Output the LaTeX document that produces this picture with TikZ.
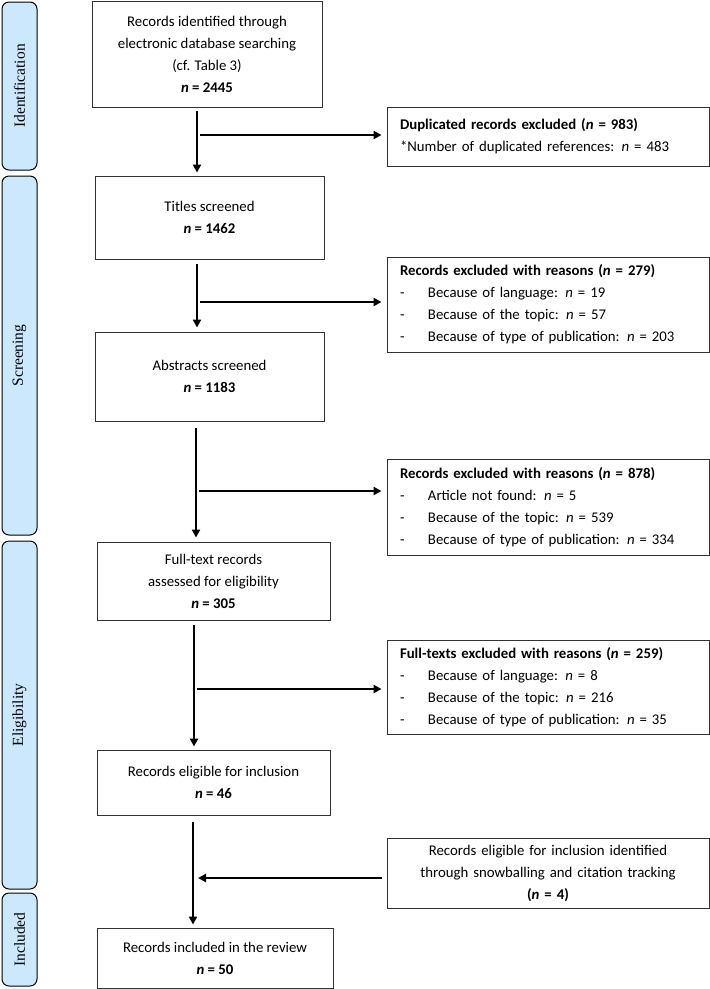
\documentclass[tikz,border=0pt]{standalone}
\usepackage{fontspec}
\setmainfont{Carlito}
\newfontfamily\phasefont{Liberation Serif}
\usetikzlibrary{arrows.meta,calc}
\definecolor{phasefill}{RGB}{204,232,252}
\definecolor{boxline}{RGB}{50,50,50}
\begin{document}
\begin{tikzpicture}[x=1pt,y=-1pt,
  mainbox/.style={draw=boxline,line width=0.9pt,align=center,inner sep=0pt,
    font=\fontsize{14.8}{22}\selectfont},
  sidebox/.style={draw=boxline,line width=0.9pt,align=left,inner xsep=13pt,inner ysep=0pt,
    minimum width=322pt,text width=296pt,font=\fontsize{14.8}{22}\selectfont},
  phase/.style={draw=black,fill=phasefill,rounded corners=7pt,line width=1pt,
    minimum height=35pt,inner sep=0pt,rotate=90,font=\phasefont\fontsize{15.5}{18}\selectfont},
  arr/.style={line width=2.2pt,-{Triangle[length=8pt,width=8pt]}}
]
\useasboundingbox (0,0) rectangle (710,989);
\newcommand{\dd}{\makebox[28pt][l]{-}}

% phase bars
\node[phase,minimum width=168pt] (p1) at (19.5,86) {Identification};
\node[phase,minimum width=359pt] (p2) at (19.5,355.5) {Screening};
\node[phase,minimum width=348pt] (p3) at (19.5,715) {Eligibility};
\node[phase,minimum width=93pt] (p4) at (19.5,939.5) {Included};

% main column
\node[mainbox,minimum width=230pt,minimum height=106pt] (b1) at (207,54)
  {Records identified through\\electronic database searching\\(cf. Table 3)\\\textbf{\textit{n} = 2445}};
\node[mainbox,minimum width=229pt,minimum height=83pt] (titles) at (209.5,217.5)
  {Titles screened\\\textbf{\textit{n} = 1462}};
\node[mainbox,minimum width=229pt,minimum height=89pt] (abs) at (209.5,376.5)
  {Abstracts screened\\\textbf{\textit{n} = 1183}};
\node[mainbox,minimum width=233pt,minimum height=78pt] (full) at (213.5,581)
  {Full-text records\\assessed for eligibility\\\textbf{\textit{n} = 305}};
\node[mainbox,minimum width=233pt,minimum height=65pt] (elig) at (213.5,782.5)
  {Records eligible for inclusion\\\textbf{\textit{n} = 46}};
\node[mainbox,minimum width=236pt,minimum height=60pt] (incl) at (215,958)
  {Records included in the review\\\textbf{\textit{n} = 50}};

% side boxes
\node[sidebox,minimum height=59pt] (dup) at (548,136.5)
  {\textbf{Duplicated records excluded (\textit{n} = 983)}\\{}*Number of duplicated references: \textit{n} = 483};
\node[sidebox,minimum height=95pt] (ex1) at (548,304.5)
  {\textbf{Records excluded with reasons (\textit{n} = 279)}\\
   \dd Because of language: \textit{n} = 19\\
   \dd Because of the topic: \textit{n} = 57\\
   \dd Because of type of publication: \textit{n} = 203};
\node[sidebox,minimum height=96pt] (ex2) at (548,507)
  {\textbf{Records excluded with reasons (\textit{n} = 878)}\\
   \dd Article not found: \textit{n} = 5\\
   \dd Because of the topic: \textit{n} = 539\\
   \dd Because of type of publication: \textit{n} = 334};
\node[sidebox,minimum height=94pt] (ex3) at (548,687)
  {\textbf{Full-texts excluded with reasons (\textit{n} = 259)}\\
   \dd Because of language: \textit{n} = 8\\
   \dd Because of the topic: \textit{n} = 216\\
   \dd Because of type of publication: \textit{n} = 35};
\node[sidebox,align=center,minimum height=70pt] (snow) at (548,873)
  {Records eligible for inclusion identified\\through snowballing and citation tracking\\\textbf{(\textit{n} = 4)}};

% connector columns
\coordinate (c1) at (197,135);
\coordinate (c2) at (197,302);
\coordinate (c3) at (196,491);
\coordinate (c4) at (194,689);
\coordinate (c5) at (193,878);

% vertical arrows
\draw[arr,shorten <=4pt,shorten >=3pt] (b1.south -| c1) -- (titles.north -| c1);
\draw[arr,shorten <=5pt,shorten >=4pt] (titles.south -| c2) -- (abs.north -| c2);
\draw[arr,shorten <=7pt,shorten >=4pt] (abs.south -| c3) -- (full.north -| c3);
\draw[arr,shorten <=5pt,shorten >=3pt] (full.south -| c4) -- (elig.north -| c4);
\draw[arr,shorten <=7pt,shorten >=3pt] (elig.south -| c5) -- (incl.north -| c5);

% horizontal arrows
\draw[arr,shorten >=5pt] ([xshift=3pt]c1) -- (c1 -| dup.west);
\draw[arr,shorten >=5pt] ([xshift=3pt]c2) -- (c2 -| ex1.west);
\draw[arr,shorten >=5pt] ([xshift=3pt]c3) -- (c3 -| ex2.west);
\draw[arr,shorten >=5pt] ([xshift=3pt]c4) -- (c4 -| ex3.west);
\draw[arr,shorten <=5pt] (c5 -| snow.west) -- ([xshift=5pt]c5);
\end{tikzpicture}
\end{document}
